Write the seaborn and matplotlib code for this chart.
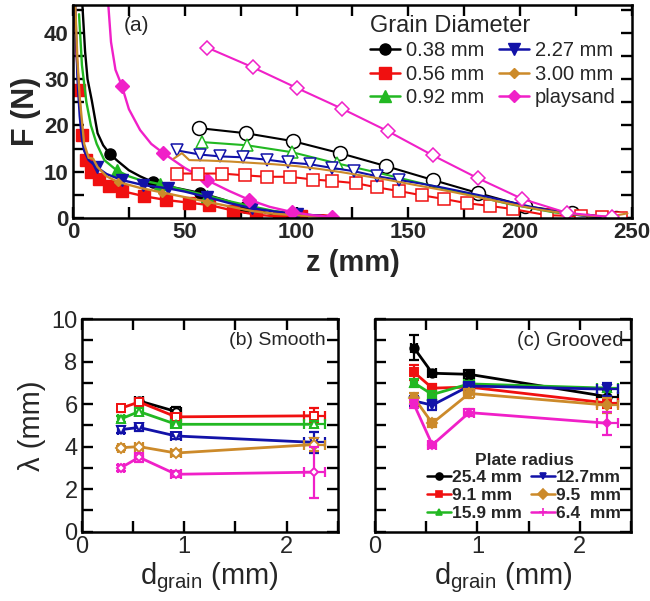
import numpy as np
import pandas as pd
import matplotlib
matplotlib.use("Agg")
import matplotlib.pyplot as plt
import seaborn as sns
from matplotlib.ticker import MultipleLocator
from matplotlib.lines import Line2D

sns.set_style("ticks")
plt.rcParams['font.family'] = ['Liberation Sans', 'DejaVu Sans']
plt.rcParams['mathtext.fontset'] = 'custom'
plt.rcParams['mathtext.rm'] = 'Liberation Sans'
plt.rcParams['mathtext.it'] = 'Liberation Sans:italic'
plt.rcParams['mathtext.bf'] = 'Liberation Sans:bold'

# ---------------- (a) force vs depth ----------------
grain_labels = ["0.38 mm", "0.56 mm", "0.92 mm", "2.27 mm", "3.00 mm", "playsand"]

# steep curves (filled markers)
z_038_s = [4.2, 5.4, 6.5, 8.4, 11, 13.5, 16.5, 20, 25, 30, 36, 45, 57, 67, 77, 85, 92, 97]
F_038_s = [46, 36, 30, 25.4, 18.3, 15.7, 13.8, 12.3, 10.3, 9.0, 7.7, 6.6, 5.4, 4.0, 2.4, 1.3, 0.5, 0.0]
z_056_s = [0.8, 1.5, 2.7, 4, 6, 8, 11.6, 16, 22, 31.8, 41.4, 52, 61, 71.6, 82, 92, 102, 112, 118]
F_056_s = [46, 36, 27.7, 18, 12.5, 10, 8.4, 7.0, 5.8, 4.7, 3.9, 3.3, 2.8, 1.6, 0.7, 0.3, 0.5, 0.6, 0.3]
z_092_s = [2.7, 4, 6, 8, 10.6, 14, 19.5, 25, 30, 39, 50, 60, 70, 80, 90, 100, 110, 119]
F_092_s = [44, 33, 25, 20, 16, 12.5, 10.3, 9.0, 8.2, 7.3, 6.0, 4.8, 3.6, 2.5, 1.5, 0.8, 0.4, 0.0]
z_227_s = [1, 1.5, 2, 3, 4, 5, 7, 10.6, 15, 21.8, 31.5, 42.6, 50, 60, 70, 80, 90, 100, 110, 118]
F_227_s = [46, 38, 30, 22, 17, 14.5, 12.5, 11, 9.5, 8.2, 7.1, 6.4, 5.7, 4.5, 3.2, 2.1, 1.4, 0.9, 0.5, 0.1]
z_300_s = [1, 2, 3, 5, 7, 9, 11, 15, 20, 30, 40, 50, 60, 70, 80, 90, 100, 110, 118]
F_300_s = [46, 34, 26, 16, 13, 12.8, 11, 9.0, 7.8, 6.5, 5.5, 4.5, 3.5, 2.5, 1.5, 0.9, 0.6, 0.3, 0.0]
z_play_s = [15.8, 17, 19, 21.8, 25, 30, 35, 40.4, 50, 59.8, 70, 78.9, 88, 97.8, 107, 116]
F_play_s = [46, 38, 32, 28.6, 23.5, 19, 16, 14, 10.8, 8.2, 5.8, 3.9, 2.4, 1.3, 0.6, 0.2]

# shallow curves (open markers)
z_038_o = [56.5, 77.4, 98.3, 119.4, 140, 161, 181, 202, 223, 243, 250]
F_038_o = [19.4, 18.3, 16.6, 14.0, 11.2, 8.2, 5.4, 2.6, 1.1, 0.0, 0.0]
z_056_o = [46.4, 56, 66.6, 77, 86.6, 97, 107.5, 116, 126.6, 136, 146, 156, 166, 176, 186.5, 197, 212, 227, 236.5, 245]
F_056_o = [9.6, 9.6, 9.6, 9.2, 8.9, 8.9, 8.3, 8.0, 7.5, 6.6, 5.8, 4.9, 4.1, 3.2, 2.6, 1.9, 0.6, 0.4, 0.3, 0.1]
z_092_o = [57.5, 77.8, 98, 118, 137, 155, 175, 195, 215, 235]
F_092_o = [16.4, 15.7, 14.2, 11.8, 9.7, 7.6, 5.3, 3.0, 1.2, 0.2]
z_227_o = [46.4, 56.8, 65.7, 76, 86.6, 96, 106, 116, 125.7, 136, 146, 156, 166, 176, 186, 196, 206, 216, 226, 236]
F_227_o = [14.6, 13.7, 13.3, 13.1, 12.6, 12.0, 11.6, 10.8, 10.1, 9.0, 8.2, 7.4, 6.5, 5.5, 4.5, 3.4, 2.3, 1.4, 0.6, 0.1]
z_300_o = [45, 48.7, 52, 60, 70, 80, 90, 100, 110, 120, 130, 140, 150, 160, 170, 180, 190, 200, 210, 220, 230, 240, 248]
F_300_o = [12.8, 14.0, 12.5, 12.4, 12.2, 11.9, 11.6, 11.2, 10.6, 9.9, 9.1, 8.3, 7.4, 6.5, 5.6, 4.6, 3.6, 2.6, 1.7, 1.0, 0.5, 0.3, 1.0]
z_play_o = [60, 80.6, 100, 120.3, 141, 161, 181, 201, 221, 241]
F_play_o = [36.8, 32.5, 28.1, 23.6, 18.7, 13.5, 8.6, 4.1, 1.1, 0.2]

# ---------------- (b), (c) lambda vs grain size ----------------
d_grain = [0.38, 0.56, 0.92, 2.27]
d_err = [0.03, 0.04, 0.05, 0.1]
radius_labels = ["25.4 mm", "9.1 mm", "15.9 mm", "12.7mm", "9.5  mm", "6.4  mm"]

smooth_254 = [np.nan, 6.15, 5.65, np.nan]
smooth_91 = [5.8, 6.1, 5.4, 5.45]
smooth_159 = [5.3, 5.65, 5.05, 5.05]
smooth_127 = [4.8, 4.9, 4.5, 4.2]
smooth_95 = [3.95, 4.0, 3.7, 4.1]
smooth_64 = [3.0, 3.5, 2.7, 2.8]
smooth_254_err = [0.0, 0.15, 0.2, 0.0]
smooth_91_err = [0.15, 0.1, 0.1, 0.35]
smooth_159_err = [0.15, 0.15, 0.1, 0.15]
smooth_127_err = [0.15, 0.15, 0.15, 0.5]
smooth_95_err = [0.1, 0.1, 0.15, 0.3]
smooth_64_err = [0.15, 0.2, 0.15, 1.2]

groove_254 = [8.65, 7.45, 7.4, 6.35]
groove_91 = [7.5, 6.75, 6.8, 6.05]
groove_159 = [7.0, 6.45, 6.95, 6.75]
groove_127 = [6.15, 5.95, 6.85, 6.7]
groove_95 = [6.3, 5.1, 6.5, 5.95]
groove_64 = [6.0, 4.08, 5.6, 5.1]
groove_254_err = [0.6, 0.15, 0.2, 0.25]
groove_91_err = [0.35, 0.2, 0.15, 0.25]
groove_159_err = [0.2, 0.15, 0.15, 0.2]
groove_127_err = [0.25, 0.25, 0.2, 0.3]
groove_95_err = [0.2, 0.2, 0.2, 0.35]
groove_64_err = [0.2, 0.15, 0.15, 0.55]

BLACK = "#000000"
RED = "#f01010"
GREEN = "#22b822"
BLUE = "#1212a8"
ORANGE = "#cc8a2a"
MAGENTA = "#f020c8"

fig = plt.figure(figsize=(6.5, 6.01), dpi=100)
ax_a = fig.add_axes([0.1123, 0.6373, 0.8600, 0.3544])
ax_b = fig.add_axes([0.1257, 0.1153, 0.3943, 0.3539])
ax_c = fig.add_axes([0.5769, 0.1153, 0.3938, 0.3539])


def style_axes(ax, bold):
    for s in ax.spines.values():
        s.set_linewidth(1.8)
        s.set_color("black")
    ax.tick_params(which="both", direction="in", top=True, right=True,
                   width=1.7, length=8, color="black")
    weight = "bold" if bold else "normal"
    for lab in ax.get_xticklabels() + ax.get_yticklabels():
        lab.set_fontweight(weight)


# ---- panel (a)
steep = [(z_038_s, F_038_s, BLACK, "o", 8, [6, 10, 12, 14]),
         (z_056_s, F_056_s, RED, "s", 8, list(range(2, 17))),
         (z_092_s, F_092_s, GREEN, "^", 8, [6, 9, 11]),
         (z_227_s, F_227_s, BLUE, "v", 8, [7, 9, 10, 11, 13, 15, 17]),
         (z_300_s, F_300_s, ORANGE, "D", 4, [8, 10, 12]),
         (z_play_s, F_play_s, MAGENTA, "D", 7, [3, 7, 9, 11, 13, 15])]
for z, F, c, m, ms, idx in steep:
    sns.lineplot(x=z, y=F, ax=ax_a, color=c, lw=1.7, sort=False, estimator=None,
                 marker=m, markersize=ms, markevery=idx, mfc=c, mec=c, mew=1)

shallow = [(z_038_o, F_038_o, BLACK, "o", 10, list(range(10))),
           (z_056_o, F_056_o, RED, "s", 9, list(range(20))),
           (z_092_o, F_092_o, GREEN, "^", 9, [0, 1, 2, 3]),
           (z_227_o, F_227_o, BLUE, "v", 9, list(range(11))),
           (z_300_o, F_300_o, ORANGE, "D", 0, []),
           (z_play_o, F_play_o, MAGENTA, "D", 7, list(range(10)))]
for z, F, c, m, ms, idx in shallow:
    sns.lineplot(x=z, y=F, ax=ax_a, color=c, lw=1.5, sort=False, estimator=None,
                 marker=m, markersize=ms, markevery=idx, mfc="white", mec=c, mew=1.1)

ax_a.set_xlim(0, 250)
ax_a.set_ylim(0, 46)
ax_a.xaxis.set_major_locator(MultipleLocator(50))
ax_a.xaxis.set_minor_locator(MultipleLocator(25))
ax_a.yaxis.set_major_locator(MultipleLocator(10))
ax_a.yaxis.set_minor_locator(MultipleLocator(5))
ax_a.tick_params(labelsize=16, pad=3)
ax_a.set_xlabel("z (mm)", fontsize=21, fontweight="bold", labelpad=4)
ax_a.set_ylabel("F (N)", fontsize=22, fontweight="bold", labelpad=2)
ax_a.text(0.113, 0.905, "(a)", transform=ax_a.transAxes, fontsize=15,
          ha="center", va="center")
style_axes(ax_a, True)

a_handles = [Line2D([], [], color=BLACK, marker="o", ms=8, lw=1.8),
             Line2D([], [], color=RED, marker="s", ms=8, lw=1.8),
             Line2D([], [], color=GREEN, marker="^", ms=8, lw=1.8),
             Line2D([], [], color=BLUE, marker="v", ms=8, lw=1.8),
             Line2D([], [], color=ORANGE, marker="D", ms=5.5, lw=1.8),
             Line2D([], [], color=MAGENTA, marker="D", ms=6.5, lw=1.8)]
leg_a = ax_a.legend(a_handles, grain_labels, ncol=2, title="Grain Diameter",
                    loc="upper right", bbox_to_anchor=(1.0, 1.03), frameon=False,
                    fontsize=14.5, title_fontsize=17, handlelength=1.5,
                    handletextpad=0.3, columnspacing=0.7, labelspacing=0.22,
                    borderpad=0.3, alignment="left")

# ---- panels (b), (c)
markers = ["o", "s", "^", "v", "D", "D"]
msizes = [6, 6, 6, 6, 5, 4.5]
colors = [BLACK, RED, GREEN, BLUE, ORANGE, MAGENTA]
smooth_vals = [smooth_254, smooth_91, smooth_159, smooth_127, smooth_95, smooth_64]
smooth_errs = [smooth_254_err, smooth_91_err, smooth_159_err, smooth_127_err, smooth_95_err, smooth_64_err]
groove_vals = [groove_254, groove_91, groove_159, groove_127, groove_95, groove_64]
groove_errs = [groove_254_err, groove_91_err, groove_159_err, groove_127_err, groove_95_err, groove_64_err]

for ax, vals, errs, filled in [(ax_b, smooth_vals, smooth_errs, False),
                               (ax_c, groove_vals, groove_errs, True)]:
    for v, e, c, m, ms in zip(vals, errs, colors, markers, msizes):
        df = pd.DataFrame({"d": d_grain, "lam": v, "err": e, "derr": d_err}).dropna()
        ax.errorbar(df["d"], df["lam"], yerr=df["err"], xerr=df["derr"], fmt="none",
                    ecolor=c, elinewidth=1.6, capsize=3.5, capthick=1.6)
        sns.lineplot(data=df, x="d", y="lam", ax=ax, color=c, lw=2.0, sort=False,
                     estimator=None, marker=m, markersize=ms,
                     mfc=(c if filled else "white"), mec=c, mew=1.4)
    ax.set_xlim(0, 2.5)
    ax.set_ylim(0, 10)
    ax.xaxis.set_major_locator(MultipleLocator(1))
    ax.xaxis.set_minor_locator(MultipleLocator(0.5))
    ax.yaxis.set_major_locator(MultipleLocator(2))
    ax.yaxis.set_minor_locator(MultipleLocator(1))
    ax.tick_params(labelsize=17, pad=3)
    ax.set_xlabel(r"$\mathregular{d_{grain}}$ (mm)", fontsize=21, labelpad=2)
    style_axes(ax, False)

ax_b.set_ylabel("λ (mm)", fontsize=21, labelpad=4)
ax_c.set_ylabel("")
ax_c.set_yticklabels([])
ax_b.text(0.95, 0.9, "(b) Smooth", transform=ax_b.transAxes, fontsize=14,
          ha="right", va="center")
ax_c.text(0.97, 0.9, "(c) Grooved", transform=ax_c.transAxes, fontsize=14.5,
          ha="right", va="center")

c_markers = ["o", "s", "^", "v", "D", "+"]
c_handles = [Line2D([], [], color=c, marker=m, ms=(5 if m != "+" else 6), lw=1.8, mew=1.2)
             for c, m in zip(colors, c_markers)]
ax_c.legend(c_handles, radius_labels, ncol=2, title="Plate radius",
            loc="lower right", bbox_to_anchor=(1.015, -0.015), frameon=False,
            prop={"size": 12.5, "weight": "bold"},
            title_fontproperties={"size": 12.5, "weight": "bold"},
            handlelength=1.4, handletextpad=0.05, columnspacing=0.5,
            labelspacing=0.15, borderpad=0.3)

fig.savefig("out.png", dpi=100)
